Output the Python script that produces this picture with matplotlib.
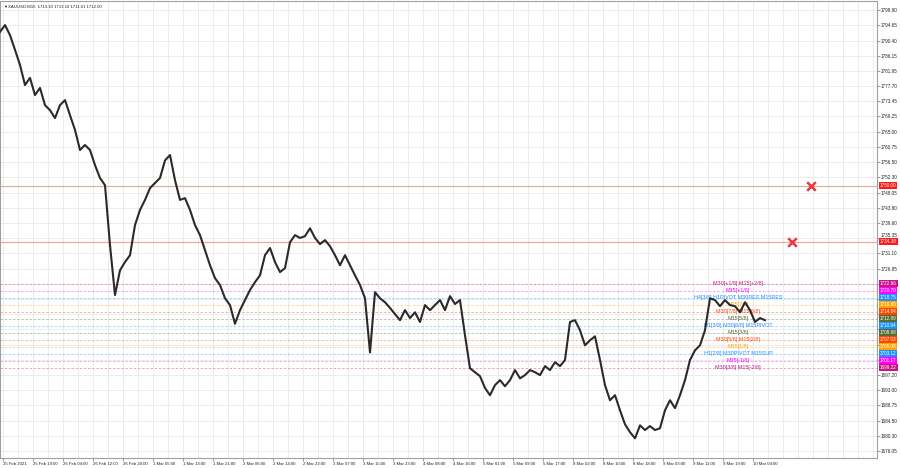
import matplotlib
matplotlib.use('Agg')
import matplotlib.pyplot as plt
from matplotlib.transforms import blended_transform_factory, ScaledTranslation

plt.rcParams['font.family'] = ['Liberation Sans', 'DejaVu Sans']

symbol = "XAUUSD,M15"
ohlc_now = [1713.10, 1713.10, 1711.61, 1712.50]

# close prices, one sample every 80 min (16/3 M15 bars)
closes = [
    1792.8, 1794.7, 1791.9, 1787.8, 1783.6, 1778.0, 1780.0, 1775.2, 1777.2, 1772.4,
    1771.0, 1768.8, 1772.4, 1773.8, 1769.6, 1765.5, 1759.9, 1761.3, 1759.9, 1755.7,
    1752.1, 1750.1, 1733.4, 1719.5, 1726.4, 1728.7, 1730.6, 1739.0, 1743.2, 1746.0,
    1749.3, 1750.7, 1752.1, 1757.0, 1758.5, 1751.5, 1746.0, 1746.5, 1743.2, 1739.0,
    1736.2, 1732.0, 1727.8, 1724.2, 1722.3, 1718.6, 1716.7, 1711.5, 1715.3, 1718.1,
    1720.9, 1723.1, 1725.0, 1730.6, 1732.6, 1728.7, 1725.9, 1727.0, 1734.2, 1736.2,
    1735.4, 1735.9, 1738.1, 1735.4, 1733.7, 1734.8, 1733.1, 1730.6, 1727.8, 1730.6,
    1727.8, 1725.0, 1722.3, 1718.6, 1703.5, 1720.3, 1718.6, 1717.5, 1715.9, 1714.2,
    1712.5, 1715.3, 1713.1, 1714.7, 1712.0, 1716.7, 1715.3, 1716.7, 1718.1, 1715.3,
    1719.2, 1717.0, 1718.1, 1708.3, 1699.1, 1698.0, 1696.9, 1693.6, 1691.6, 1694.4,
    1695.8, 1694.1, 1695.8, 1698.6, 1696.3, 1697.2, 1698.6, 1698.0, 1697.2, 1699.7,
    1698.6, 1700.8, 1699.7, 1701.4, 1712.0, 1712.5, 1709.7, 1705.5, 1706.9, 1708.0,
    1701.4, 1694.4, 1690.2, 1691.6, 1687.4, 1683.5, 1681.3, 1679.6, 1683.2, 1681.9,
    1683.0, 1681.9, 1682.4, 1687.4, 1690.2, 1688.0, 1691.6, 1695.8, 1701.4, 1704.1,
    1705.5, 1709.7, 1718.6, 1718.1, 1716.4, 1718.1, 1716.7, 1716.4, 1714.7, 1717.5,
    1715.3, 1712.0, 1713.1, 1712.5,
]
bars_per_sample = 16 / 3

time_labels = [
    "25 Feb 2021", "25 Feb 19:00", "26 Feb 04:00", "26 Feb 12:00", "26 Feb 20:00",
    "1 Mar 05:00", "1 Mar 13:00", "1 Mar 21:00", "2 Mar 06:00", "2 Mar 14:00",
    "2 Mar 22:00", "3 Mar 07:00", "3 Mar 15:00", "3 Mar 23:00", "4 Mar 08:00",
    "4 Mar 16:00", "5 Mar 01:00", "5 Mar 09:00", "5 Mar 17:00", "8 Mar 02:00",
    "8 Mar 10:00", "8 Mar 18:00", "9 Mar 03:00", "9 Mar 11:00", "9 Mar 19:00",
    "10 Mar 04:00",
]

price_ticks = [
    1676.05, 1680.30, 1684.50, 1688.75, 1693.00, 1697.20, 1701.45, 1705.70, 1709.95,
    1714.15, 1718.40, 1722.65, 1726.85, 1731.10, 1735.35, 1739.60, 1743.80, 1748.05,
    1752.30, 1756.50, 1760.75, 1765.00, 1769.25, 1773.45, 1777.70, 1781.95, 1786.15,
    1790.40, 1794.65, 1798.90,
]

murrey_prices = [1722.66, 1720.70, 1718.75, 1716.80, 1714.84, 1712.89, 1710.94,
                 1708.98, 1707.03, 1705.08, 1703.12, 1701.17, 1699.22]
murrey_names = [
    "M30[+1/8] M15[+2/8]", "M15[+1/8]", "H4[3/8] H1PIVOT M30RES M15RES", "M15[7/8]",
    "M30[7/8] M15[6/8]", "M15[5/8]", "H1[3/8] M30[6/8] M15PIVOT", "M15[3/8]",
    "M30[5/8] M15[2/8]", "M15[1/8]", "H1[2/8] M30PIVOT M15SUP", "M15[-1/8]",
    "M30[3/8] M15[-2/8]",
]
murrey_colors = ['#c71585', '#ff00ff', '#1e90ff', '#ffa500', '#ff4500', '#556b2f', '#1e90ff',
                 '#556b2f', '#ff4500', '#ffa500', '#1e90ff', '#ff00ff', '#c71585']

level_prices = [1750.00, 1734.38]
level_colors = ['#d6b3a3', '#f3a59f']
cross_bars = [865, 845]

# ---- figure ----
fig = plt.figure(figsize=(9, 4.68), dpi=100)
fig.patch.set_facecolor('white')
ax = fig.add_axes([0, 10 / 468, 877 / 900, 457 / 468])
ax.set_xlim(0, 877 / 0.9375)
ax.set_ylim(1674.11, 1801.41)

for sp in ax.spines.values():
    sp.set_color('#a0a0a0')
    sp.set_linewidth(0.8)

# grid
grid_x = [3.2 + 16 * k for k in range(59)]
for gx in grid_x:
    ax.axvline(gx, color='#e9e9e9', lw=0.6, zorder=0)
for gy in price_ticks:
    ax.axhline(gy, color='#e9e9e9', lw=0.6, zorder=0)

# levels
for p, c in zip(level_prices, level_colors):
    ax.axhline(p, color=c, lw=0.9, zorder=1)
ax.scatter(cross_bars, level_prices, marker='x', s=38, color='#e8383d', linewidths=1.8, zorder=4)

# murrey lines + names
for p, name, c in zip(murrey_prices, murrey_names, murrey_colors):
    ax.axhline(p, color=c, lw=0.6, alpha=0.45, dashes=(3, 2), zorder=1)
    ax.text(738 / 0.9375, p, name, color=c, fontsize=3.9, ha='center', va='center', zorder=2)

# price
xs = [i * bars_per_sample for i in range(len(closes))]
ax.plot(xs, closes, color='#2a2a2a', lw=1.5, zorder=3)

# axes ticks; labels hidden behind the coloured boxes are left blank
lo, hi = min(murrey_prices) + 1, max(murrey_prices) + 1
ax.yaxis.tick_right()
ax.set_yticks(price_ticks)
ax.set_yticklabels(["" if lo < v < hi else f"{v:.2f}" for v in price_ticks])
ax.tick_params(axis='y', length=2, pad=1, labelsize=3.3, colors='#a0a0a0', labelcolor='#222222')
# label just above the 1734.38 box sits a touch higher
for v, t in zip(price_ticks, ax.get_yticklabels()):
    if abs(v - level_prices[1]) < 2:
        t.set_transform(t.get_transform() + ScaledTranslation(0, 2.2 / 72, fig.dpi_scale_trans))
label_x = [3.2 + 32 * k for k in range(len(time_labels))]
ax.set_xticks(label_x)
ax.set_xticklabels(time_labels)
for t in ax.get_xticklabels():
    t.set_horizontalalignment('left')
ax.tick_params(axis='x', length=2, pad=1, labelsize=3.1, colors='#a0a0a0', labelcolor='#222222')

# right side price boxes
tr = blended_transform_factory(ax.transAxes, ax.transData)
box_prices = murrey_prices + level_prices
box_colors = murrey_colors + ['#ff1a1a', '#ff1a1a']
for p, c in zip(box_prices, box_colors):
    ax.text(1.003, p, f"{p:.2f}", transform=tr, fontsize=3.3, color='white', ha='left', va='center',
            clip_on=False, zorder=6,
            bbox=dict(boxstyle='square,pad=0.22', facecolor=c, edgecolor='none'))

# header
o, h, l, c = ohlc_now
fig.text(3 / 900, 1 - 7 / 468, "\u25bc", fontsize=3.0, color='#222222', va='center')
fig.text(8 / 900, 1 - 7 / 468, f"{symbol}  {o:.2f} {h:.2f} {l:.2f} {c:.2f}",
         fontsize=3.1, color='#222222', va='center')

fig.savefig('out.png', dpi=100, facecolor='white')
